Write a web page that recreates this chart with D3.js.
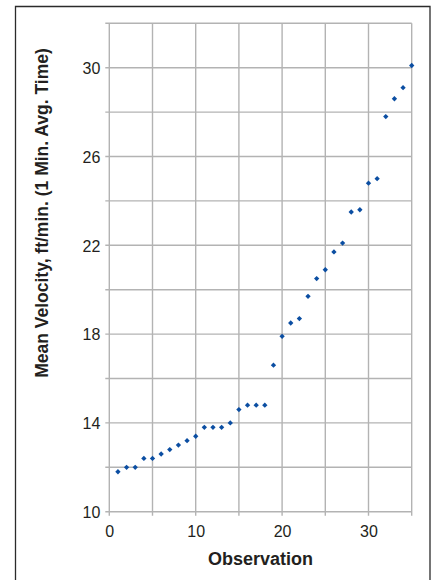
<!DOCTYPE html>
<html>
<head>
<meta charset="utf-8">
<script src="https://cdn.jsdelivr.net/npm/d3@7"></script>
<style>
  html, body { margin: 0; padding: 0; background: #fff; }
  svg { display: block; }
  text { font-family: "Liberation Sans", Arial, Helvetica, sans-serif; fill: #231f20; }
</style>
</head>
<body>
<svg id="chart" width="435" height="580"></svg>
<script>
// Observation numbers and mean velocity readings (ft/min, 1 min. average)
const observations = d3.range(1, 36);
const velocities = [
  11.8, 12.0, 12.0, 12.4, 12.4, 12.6, 12.8, 13.0, 13.2, 13.4,
  13.8, 13.8, 13.8, 14.0, 14.6, 14.8, 14.8, 14.8, 16.6, 17.9,
  18.5, 18.7, 19.7, 20.5, 20.9, 21.7, 22.1, 23.5, 23.6, 24.8,
  25.0, 27.8, 28.6, 29.1, 30.1
];
const xTicks = [0, 10, 20, 30];
const xGrid = [0, 5, 10, 15, 20, 25, 30, 35];
const yTicks = [10, 14, 18, 22, 26, 30];
const yGrid = [10, 12, 14, 16, 18, 20, 22, 24, 26, 28, 30, 32];

const svg = d3.select("#chart");
const plotL = 109.3, plotR = 411.7, plotT = 23.3, plotB = 511.7;

const x = d3.scaleLinear().domain([0, 35]).range([plotL, plotR]);
const y = d3.scaleLinear().domain([10, 32]).range([plotB, plotT]);

// outer frame
svg.append("path")
  .attr("d", `M15.5,585 L15.5,6.5 L430,6.5 L430,585`)
  .attr("fill", "none").attr("stroke", "#2b2b2b").attr("stroke-width", 1.3);

const gridColor = "#b3b3b3";

// grid
svg.append("g").selectAll("line").data(xGrid).join("line")
  .attr("x1", d => x(d)).attr("x2", d => x(d))
  .attr("y1", plotT).attr("y2", plotB + 4)
  .attr("stroke", gridColor).attr("stroke-width", 1.4);
svg.append("g").selectAll("line").data(yGrid).join("line")
  .attr("x1", plotL - 4).attr("x2", plotR)
  .attr("y1", d => y(d)).attr("y2", d => y(d))
  .attr("stroke", gridColor).attr("stroke-width", 1.4);

// x axis labels
const xAxis = d3.axisBottom(x).tickValues(xTicks).tickSize(0).tickPadding(0);
svg.append("g").attr("transform", `translate(0,${plotB})`).call(xAxis)
  .call(g => g.select(".domain").remove())
  .selectAll("text")
  .attr("dy", null).attr("y", 25)
  .attr("font-size", 16).attr("fill", "#231f20");

// y axis labels
const yAxis = d3.axisLeft(y).tickValues(yTicks).tickSize(0).tickPadding(0);
svg.append("g").attr("transform", `translate(${plotL - 9},0)`).call(yAxis)
  .call(g => g.select(".domain").remove())
  .selectAll("text")
  .attr("dy", "0.36em")
  .attr("font-size", 16).attr("fill", "#231f20");

svg.selectAll(".tick text").attr("font-family", "Liberation Sans, Arial, sans-serif");

// data points as small diamonds
svg.append("g").selectAll("path").data(observations).join("path")
  .attr("transform", (d, i) => `translate(${x(d)},${y(velocities[i])})`)
  .attr("d", d3.symbol(d3.symbolDiamond2, 18)())
  .attr("fill", "#0b4ea2");

// axis titles
svg.append("text")
  .attr("x", (plotL + plotR) / 2).attr("y", 565)
  .attr("text-anchor", "middle").attr("font-weight", "bold").attr("font-size", 18)
  .text("Observation");
svg.append("text")
  .attr("transform", `translate(48,213) rotate(-90)`)
  .attr("text-anchor", "middle").attr("font-weight", "bold").attr("font-size", 17.5)
  .text("Mean Velocity, ft/min. (1 Min. Avg. Time)");
</script>
</body>
</html>
